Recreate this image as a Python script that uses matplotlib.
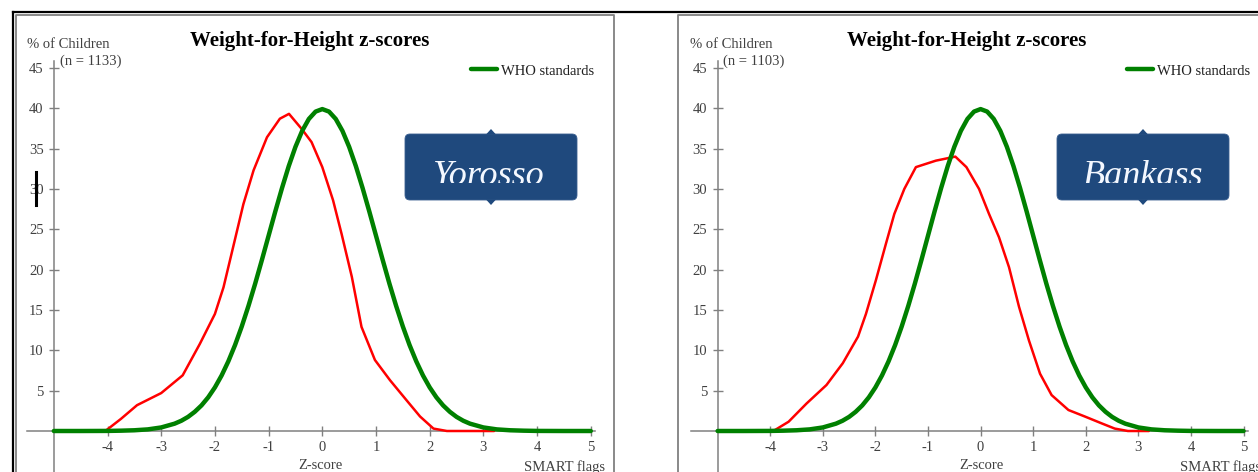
import matplotlib
matplotlib.use("Agg")
import matplotlib.pyplot as plt
from matplotlib.lines import Line2D
from matplotlib.patches import FancyBboxPatch, Polygon, Rectangle

# ---- data ----
who_z = [-5.0, -4.5, -4.0, -3.75, -3.5, -3.25, -3.0, -2.75, -2.625, -2.5, -2.375, -2.25, -2.125,
         -2.0, -1.875, -1.75, -1.625, -1.5, -1.375, -1.25, -1.125, -1.0, -0.875, -0.75, -0.625,
         -0.5, -0.375, -0.25, -0.125, 0.0, 0.125, 0.25, 0.375, 0.5, 0.625, 0.75, 0.875, 1.0,
         1.125, 1.25, 1.375, 1.5, 1.625, 1.75, 1.875, 2.0, 2.125, 2.25, 2.375, 2.5, 2.625,
         2.75, 3.0, 3.25, 3.5, 3.75, 4.0, 4.5, 5.0]
who_pct = [0.0, 0.0, 0.01, 0.04, 0.09, 0.2, 0.44, 0.91, 1.27, 1.75, 2.38, 3.17, 4.17,
           5.4, 6.88, 8.63, 10.65, 12.95, 15.5, 18.26, 21.19, 24.2, 27.21, 30.11, 32.82,
           35.21, 37.19, 38.67, 39.58, 39.89, 39.58, 38.67, 37.19, 35.21, 32.82, 30.11, 27.21, 24.2,
           21.19, 18.26, 15.5, 12.95, 10.65, 8.63, 6.88, 5.4, 4.17, 3.17, 2.38, 1.75, 1.27,
           0.91, 0.44, 0.2, 0.09, 0.04, 0.01, 0.0, 0.0]

yorosso_z = [-4.04, -3.75, -3.45, -3.0, -2.6, -2.28, -2.0, -1.84, -1.66, -1.47, -1.28, -1.03,
             -0.79, -0.62, -0.38, -0.2, 0.0, 0.2, 0.36, 0.55, 0.73, 0.98, 1.26, 1.57, 1.82,
             2.07, 2.32, 3.2]
yorosso_pct = [0.0, 1.5, 3.2, 4.7, 6.9, 10.8, 14.5, 17.8, 22.8, 28.1, 32.3, 36.4,
               38.7, 39.3, 37.4, 35.8, 32.7, 28.6, 24.4, 19.1, 12.9, 8.8, 6.3, 3.8, 1.8,
               0.3, 0.0, 0.0]

bankass_z = [-3.94, -3.65, -3.31, -2.93, -2.62, -2.33, -2.18, -1.99, -1.8, -1.64, -1.45, -1.23,
             -0.85, -0.48, -0.27, -0.03, 0.16, 0.35, 0.54, 0.73, 0.92, 1.13, 1.35, 1.67, 1.98,
             2.3, 2.55, 2.8, 3.2]
bankass_pct = [0.0, 1.15, 3.4, 5.7, 8.4, 11.7, 14.5, 18.7, 23.2, 26.9, 30.0, 32.7,
               33.5, 34.0, 32.7, 30.0, 26.9, 24.0, 20.3, 15.4, 11.2, 7.1, 4.45, 2.6, 1.8,
               0.95, 0.3, 0.0, 0.0]

survey_names = ["Yorosso", "Bankass"]
survey_n = [1133, 1103]
x_ticks = [-4, -3, -2, -1, 0, 1, 2, 3, 4, 5]
y_ticks = [5, 10, 15, 20, 25, 30, 35, 40, 45]

W, H = 1258, 472
AXIS_GRAY = "#808080"
LABEL_COL = "#404040"
BOX_BLUE = "#1F497D"

plt.rcParams['font.family'] = ['Liberation Serif', 'DejaVu Serif']
plt.rcParams['axes.unicode_minus'] = False

fig = plt.figure(figsize=(W / 100, H / 100), dpi=100)
fig.patch.set_facecolor("white")

# pixel layout of each panel (origin = pixel of z=0, scale = px per z unit)
layout = [
    dict(origin=322.3, scale=53.7, title_x=310, pct_x=27, n_x=60, leg_x=470.7,
         box=(405, 577), text_x=433, notch=491, zlab_x=320, smart_x=524),
    dict(origin=980.6, scale=52.6, title_x=966.5, pct_x=690, n_x=722.7, leg_x=1126.7,
         box=(1057, 1229), text_x=1083, notch=1143, zlab_x=981, smart_x=1180),
]
Y0, YS = 431, 8.07  # pixel row of 0 %, px per %
XLIM = (-5.7, 5.6)
YLIM = (-5.3, 47)

series = [(yorosso_z, yorosso_pct), (bankass_z, bankass_pct)]

for i, lay in enumerate(layout):
    left = (lay['origin'] + lay['scale'] * XLIM[0]) / W
    width = lay['scale'] * (XLIM[1] - XLIM[0]) / W
    bottom = (H - (Y0 - YS * YLIM[0])) / H
    height = YS * (YLIM[1] - YLIM[0]) / H
    ax = fig.add_axes([left, bottom, width, height])
    ax.set_xlim(*XLIM)
    ax.set_ylim(*YLIM)
    ax.patch.set_alpha(0)

    z, pct = series[i]
    ax.plot(z, pct, color="#ff0000", lw=1.8, solid_capstyle='round', zorder=3)
    ax.plot(who_z, who_pct, color="#008000", lw=3.2, solid_capstyle='round', zorder=4,
            label="WHO standards")

    for s in ['top', 'right']:
        ax.spines[s].set_visible(False)
    ax.spines['left'].set_position(('data', -5))
    ax.spines['bottom'].set_position(('data', 0))
    ax.spines['left'].set_bounds(-5.3, 45.8)
    ax.spines['bottom'].set_bounds(-5.5, 5.08)
    for s in ['left', 'bottom']:
        ax.spines[s].set_color(AXIS_GRAY)
        ax.spines[s].set_linewidth(1.1)

    ax.set_xticks(x_ticks)
    ax.set_xticklabels([str(v) for v in x_ticks])
    ax.set_yticks(y_ticks)
    ax.set_yticklabels([str(v) for v in y_ticks])
    ax.tick_params(direction='inout', length=7, width=1, color=AXIS_GRAY,
                   labelsize=10.5, labelcolor=LABEL_COL)
    ax.tick_params(axis='x', pad=3.5)
    ax.tick_params(axis='y', pad=3.9)

    leg = ax.legend(loc='center left', bbox_to_anchor=(lay['leg_x'] / W, 1 - 71 / H),
                    bbox_transform=fig.transFigure, frameon=False, fontsize=10.5,
                    handlelength=1.77, handletextpad=0.3, borderpad=0, borderaxespad=0)
    for t in leg.get_texts():
        t.set_color("#202020")

# ---- overlay in pixel coordinates for texts, callouts and frame lines ----
ov = fig.add_axes([0, 0, 1, 1])
ov.set_xlim(0, W)
ov.set_ylim(H, 0)
ov.axis('off')

# frame lines
ov.add_line(Line2D([13, W], [12, 12], color='black', lw=1.6))
ov.add_line(Line2D([13, 13], [12, H], color='black', lw=1.6))
ov.add_line(Line2D([16, 16, 614, 614], [H, 15, 15, H], color=AXIS_GRAY, lw=1.3))
ov.add_line(Line2D([678, 678, W], [H, 15, 15], color=AXIS_GRAY, lw=1.3))

for i, lay in enumerate(layout):
    ov.text(lay['title_x'], 46, "Weight-for-Height z-scores", ha='center', va='baseline',
            fontsize=15, fontweight='bold', color='black')
    ov.text(lay['pct_x'], 48.5, "% of Children", ha='left', va='baseline',
            fontsize=10.5, color=LABEL_COL)
    ov.text(lay['n_x'], 65, "(n = %d)" % survey_n[i], ha='left', va='baseline',
            fontsize=10.5, color=LABEL_COL)
    ov.text(lay['zlab_x'], 469, "Z-score", ha='center', va='baseline',
            fontsize=10.5, color=LABEL_COL)
    ov.text(lay['smart_x'], 471, "SMART flags", ha='left', va='baseline',
            fontsize=10.5, color=LABEL_COL)

    x0, x1 = lay['box']
    ov.add_patch(FancyBboxPatch((x0, 134), x1 - x0, 66,
                                boxstyle="round,pad=0,rounding_size=5",
                                facecolor=BOX_BLUE, edgecolor="#3a5f90", lw=0.6))
    nx = lay['notch']
    ov.add_patch(Polygon([[nx - 5, 134.5], [nx, 129], [nx + 5, 134.5]],
                         closed=True, facecolor=BOX_BLUE, edgecolor='none'))
    ov.add_patch(Polygon([[nx - 5, 199.5], [nx, 205], [nx + 5, 199.5]],
                         closed=True, facecolor=BOX_BLUE, edgecolor='none'))
    clip = Rectangle((x0, 134), x1 - x0, 49, transform=ov.transData)
    t = ov.text(lay['text_x'], 185, survey_names[i], ha='left', va='baseline',
                fontsize=26, style='italic', color="#f4f8ff", clip_on=True)
    t.set_clip_path(clip)

# small black cursor mark on the left panel
ov.add_line(Line2D([36, 36], [172, 205], color='black', lw=2.2))

fig.savefig("out.png", dpi=100)
